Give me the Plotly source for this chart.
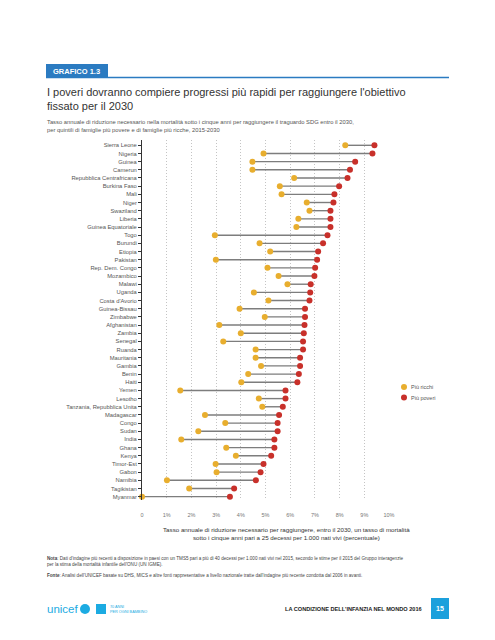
import plotly.graph_objects as go

countries = ["Sierra Leone", "Nigeria", "Guinea", "Camerun", "Repubblica Centrafricana",
             "Burkina Faso", "Mali", "Niger", "Swaziland", "Liberia", "Guinea Equatoriale",
             "Togo", "Burundi", "Etiopia", "Pakistan", "Rep. Dem. Congo", "Mozambico",
             "Malawi", "Uganda", "Costa d'Avorio", "Guinea-Bissau", "Zimbabwe", "Afghanistan",
             "Zambia", "Senegal", "Ruanda", "Mauritania", "Gambia", "Benin", "Haiti", "Yemen",
             "Lesotho", "Tanzania, Repubblica Unita", "Madagascar", "Congo", "Sudan", "India",
             "Ghana", "Kenya", "Timor-Est", "Gabon", "Namibia", "Tagikistan", "Myanmar"]

richest = [8.23, 4.92, 4.47, 4.47, 6.16, 5.58, 5.65, 6.67, 6.78, 6.33, 6.25,
           2.95, 4.76, 5.19, 2.99, 5.08, 5.53, 5.89, 4.53, 5.12, 3.95, 4.97, 3.13,
           4.00, 3.29, 4.60, 4.60, 4.82, 4.30, 4.02, 1.55,
           4.73, 4.87, 2.55, 3.37, 2.28, 1.59, 3.41, 3.80, 2.98, 3.02, 1.01, 1.91, 0.0]

poorest = [9.41, 9.33, 8.63, 8.42, 8.32, 7.98, 7.79, 7.75, 7.63, 7.63, 7.63,
           7.51, 7.33, 7.13, 7.09, 7.01, 6.98, 6.83, 6.81, 6.78, 6.60, 6.60, 6.58,
           6.55, 6.52, 6.52, 6.40, 6.40, 6.35, 6.29, 5.81,
           5.81, 5.70, 5.55, 5.49, 5.49, 5.36, 5.36, 5.23, 4.92, 4.80, 4.61, 3.73, 3.56]

x_tick_vals = [0, 1, 2, 3, 4, 5, 6, 7, 8, 9, 10]
x_tick_text = ["0", "1%", "2%", "3%", "4%", "5%", "6%", "7%", "8%", "9%", "10%"]

series_names = ["Più ricchi", "Più poveri"]
series_colors = ["#E8AE2E", "#C8302A"]

W, H = 495, 640
OFF = 8  # page body margin
L, R, T, B = 142 - OFF, 389 - OFF, 140 - OFF, 500 - OFF
FONT = "Liberation Sans"


def px(x):
    return (x - OFF - L) / (R - L)


def py(y):
    return (B - (y - OFF)) / (B - T)


ypos = list(range(len(countries)))

lx, ly = [], []
for i in ypos:
    lx += [richest[i], poorest[i], None]
    ly += [i, i, None]

fig = go.Figure()
fig.add_trace(go.Scatter(x=lx, y=ly, mode="lines", line=dict(color="#7d7d7d", width=1.4),
                         showlegend=False, hoverinfo="skip", cliponaxis=False))
fig.add_trace(go.Scatter(x=richest, y=ypos, mode="markers", name=series_names[0],
                         marker=dict(color=series_colors[0], size=6), cliponaxis=False))
fig.add_trace(go.Scatter(x=poorest, y=ypos, mode="markers", name=series_names[1],
                         marker=dict(color=series_colors[1], size=6), cliponaxis=False))

fig.update_layout(
    width=W, height=H,
    margin=dict(l=L, r=W - R, t=T, b=H - B, pad=0),
    paper_bgcolor="white", plot_bgcolor="white",
    font=dict(family=FONT, color="#444"),
    showlegend=False,
    xaxis=dict(range=[0, 10], tickvals=x_tick_vals, ticktext=x_tick_text,
               showgrid=True, griddash="1px,2px", gridcolor="#c4c4c4", gridwidth=1,
               zeroline=False, showline=False, ticks="", ticklabelstandoff=10,
               tickfont=dict(size=5.5, color="#777")),
    yaxis=dict(range=[43.41, -0.65], tickvals=ypos, ticktext=countries,
               showgrid=False, zeroline=False, showline=True, linecolor="#333",
               linewidth=1, ticks="outside", ticklen=3, tickcolor="#333", tickwidth=1,
               tickfont=dict(size=5.8, color="#555")),
)

shapes = [
    dict(type="rect", xref="paper", yref="paper", x0=px(46), x1=px(108), y0=py(78), y1=py(64),
         fillcolor="#2B7BC1", line=dict(width=0)),
    dict(type="line", xref="paper", yref="paper", x0=px(46), x1=px(449), y0=py(77.5), y1=py(77.5),
         line=dict(color="#2B7BC1", width=1.5)),
    dict(type="rect", xref="paper", yref="paper", x0=px(431), x1=px(449), y0=py(619), y1=py(598),
         fillcolor="#1CA0DC", line=dict(width=0)),
    dict(type="circle", xref="paper", yref="paper", x0=px(80), x1=px(90), y0=py(614), y1=py(604),
         fillcolor="#1CABE2", line=dict(width=0)),
    dict(type="rect", xref="paper", yref="paper", x0=px(96), x1=px(106), y0=py(614), y1=py(604),
         fillcolor="#1CABE2", line=dict(width=0)),
]
# legend symbols
for k, (cy, col) in enumerate(zip([387, 397.5], series_colors)):
    shapes.append(dict(type="circle", xref="paper", yref="paper",
                       x0=px(401), x1=px(407), y0=py(cy + 3), y1=py(cy - 3),
                       fillcolor=col, line=dict(width=0)))
fig.update_layout(shapes=shapes)


def ann(text, x, y, size, color="#444", xanchor="left", yanchor="middle", align="left", bold=False):
    if bold:
        text = "<b>" + text + "</b>"
    fig.add_annotation(text=text, xref="paper", yref="paper", x=px(x), y=py(y),
                       xanchor=xanchor, yanchor=yanchor, align=align, showarrow=False,
                       font=dict(size=size, color=color, family=FONT))


for name, cy in zip(series_names, [387, 397.5]):
    ann(name, 409, cy, 5.5, color="#555")

ann("GRAFICO 1.3", 51, 71.5, 7.5, color="white", bold=True)
ann("I poveri dovranno compiere progressi più rapidi per raggiungere l'obiettivo<br>fissato per il 2030",
    45, 99.5, 11, color="#333")
ann("Tasso annuale di riduzione necessario nella mortalità sotto i cinque anni per raggiungere il traguardo SDG entro il 2030,<br>"
    "per quintili di famiglie più povere e di famiglie più ricche, 2015-2030",
    45, 126.5, 5.8, color="#555")
ann("Tasso annuale di riduzione necessario per raggiungere, entro il 2030, un tasso di mortalità<br>"
    "sotto i cinque anni pari a 25 decessi per 1.000 nati vivi (percentuale)",
    286, 533, 6.2, color="#333", xanchor="center", align="center")
ann("<b>Nota</b>: Dati d'indagine più recenti a disposizione in paesi con un TMS5 pari a più di 40 decessi per 1.000 nati vivi nel 2015, secondo le stime per il 2015 del Gruppo interagenzie<br>"
    "per la stima della mortalità infantile dell'ONU (UN IGME).",
    45, 561.5, 4.6, color="#444")
ann("<b>Fonte</b>: Analisi dell'UNICEF basate su DHS, MICS e altre fonti rappresentative a livello nazionale tratte dall'indagine più recente condotta dal 2006 in avanti.",
    45, 575, 4.6, color="#444")
ann("unicef", 45, 609, 11.5, color="#1CABE2")
ann("70 ANNI<br>PER OGNI BAMBINO", 108, 609, 3.8, color="#1CABE2")
ann("LA CONDIZIONE DELL'INFANZIA NEL MONDO 2016", 283, 609, 5.6, color="#222", bold=True)
ann("15", 440, 608.5, 7, color="white", xanchor="center", bold=True)

fig.write_html("out.html")
